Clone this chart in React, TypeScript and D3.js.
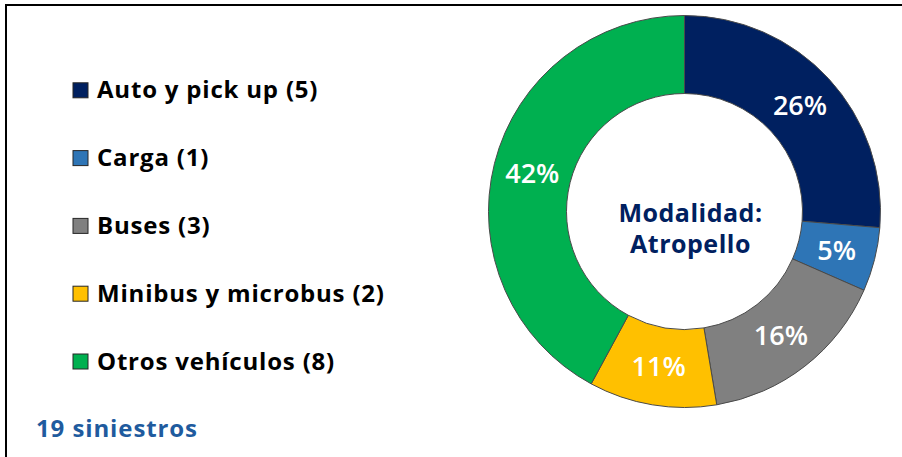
import React from "react";
import * as d3 from "d3";

const categories = ["Auto y pick up", "Carga", "Buses", "Minibus y microbus", "Otros vehículos"];
const counts = [5, 1, 3, 2, 8];
const colors = ["#002060", "#2E75B6", "#808080", "#FFC000", "#00B050"];
const centerLines = ["Modalidad:", "Atropello"];
const totalLabel = "19 siniestros";

const W = 902;
const H = 457;
const CX = 684.5;
const CY = 211.5;
const R_OUT = 196;
const R_IN = 118;
const FONT = "'Open Sans', 'Noto Sans', sans-serif";

export default function App() {
  const total = d3.sum(counts);
  const pie = d3.pie<number>().sort(null).value((d) => d).startAngle(0).endAngle(2 * Math.PI);
  const arcs = pie(counts);
  const arc = d3.arc<d3.PieArcDatum<number>>().innerRadius(R_IN).outerRadius(R_OUT);
  const labelArc = d3.arc<d3.PieArcDatum<number>>().innerRadius((R_IN + R_OUT) / 2).outerRadius((R_IN + R_OUT) / 2);
  const legendY = d3.scalePoint<number>().domain(d3.range(categories.length)).range([90.3, 361.5]);

  return (
    <svg width={W} height={H} style={{ position: "absolute", left: 0, top: 0, background: "#fff" }} fontFamily={FONT}>
      <rect x={0} y={0} width={W} height={H} fill="#fff" />
      <line x1={5} y1={5} x2={W} y2={5} stroke="#000" strokeWidth={2} />
      <line x1={6} y1={4} x2={6} y2={H} stroke="#000" strokeWidth={2} />

      <g transform={`translate(${CX},${CY})`}>
        {arcs.map((a, i) => (
          <path key={i} d={arc(a) || ""} fill={colors[i]} stroke="#4a4a4a" strokeWidth={1} />
        ))}
        {arcs.map((a, i) => {
          const [x, y] = labelArc.centroid(a);
          return (
            <text key={"l" + i} x={x} y={y} dy="0.36em" textAnchor="middle" fill="#fff" fontSize={27} fontWeight={600}>
              {Math.round((counts[i] / total) * 100) + "%"}
            </text>
          );
        })}
      </g>

      <g fill="#002060" fontWeight={700} fontSize={25} letterSpacing={0.5} textAnchor="middle">
        <text x={690.5} y={222}>{centerLines[0]}</text>
        <text x={690.5} y={253}>{centerLines[1]}</text>
      </g>

      {categories.map((c, i) => {
        const y = legendY(i) as number;
        return (
          <g key={"g" + i}>
            <rect x={73} y={y - 7.5} width={15} height={15} fill={colors[i]} stroke="#262626" strokeWidth={1} />
            <text x={97} y={y + 8} fontSize={24} fontWeight={700} letterSpacing={0.8} fill="#000">
              {`${c} (${counts[i]})`}
            </text>
          </g>
        );
      })}

      <text x={36} y={437} fontSize={24} fontWeight={700} letterSpacing={0.9} fill="#1F5B9E">{totalLabel}</text>
    </svg>
  );
}
